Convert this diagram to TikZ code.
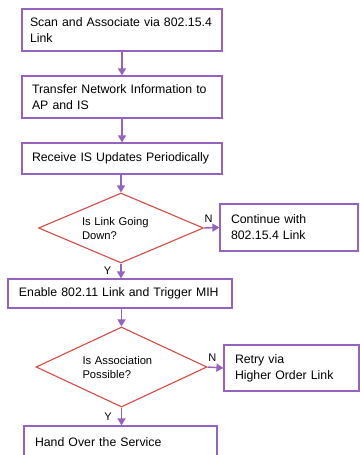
\documentclass[tikz,border=0pt]{standalone}
\usepackage{fontspec}
\setmainfont{Liberation Sans}
\usepackage{xcolor}
\usetikzlibrary{shapes.geometric,arrows.meta}
\definecolor{boxcolor}{RGB}{150, 98, 192}
\definecolor{decisioncolor}{RGB}{212, 76, 66}

\tikzset{
        stepbox/.style={draw=boxcolor, line width=1.2pt, rectangle, align=left,
                inner xsep=10pt, inner ysep=0pt,
                font=\fontsize{12.3}{16}\selectfont},
        decision/.style={draw=decisioncolor, line width=1.1pt, diamond, inner sep=0pt,
                align=left, text width=78pt, font=\fontsize{11.2}{14}\selectfont},
        flow/.style={draw=boxcolor, line width=1.4pt, -{Triangle[length=7pt,width=8pt]}},
        answer/.style={font=\fontsize{11}{13}\selectfont, inner sep=1pt},
}

\begin{document}
\begin{tikzpicture}[x=1pt, y=-1pt]
        \useasboundingbox[fill=white] (0, 0) rectangle (359, 455);
        % Main column {{{
        \node[stepbox, inner xsep=8pt, minimum width=200, minimum height=42, text width=184] (scan) at (122, 30)
                {Scan and Associate via 802.15.4\\Link};
        \node[stepbox, minimum width=200, minimum height=42, text width=180] (transfer) at (122, 97)
                {Transfer Network Information to\\AP and IS};
        \node[stepbox, minimum width=200, minimum height=31, text width=180] (receive) at (122, 158.5)
                {Receive IS Updates Periodically};
        \node[decision, shape aspect=2.36, minimum width=165, minimum height=70] (linkdown) at (121, 228)
                {Is Link Going\\Down?};
        \node[stepbox, minimum width=224, minimum height=29, text width=202] (enable) at (120, 293.5)
                {Enable 802.11 Link and Trigger MIH};
        \node[decision, shape aspect=2.14, minimum width=171, minimum height=80] (assoc) at (121.5, 367)
                {Is Association\\Possible?};
        \node[stepbox, minimum width=193, minimum height=32, text width=171] (handover) at (120.5, 442)
                {Hand Over the Service};
        % }}}
        % Side branches {{{
        \node[stepbox, minimum width=138, minimum height=47, text width=116] (continue) at (289, 227.5)
                {Continue with\\802.15.4 Link};
        \node[stepbox, minimum width=135, minimum height=46, text width=113] (retry) at (291.5, 368)
                {Retry via\\Higher Order Link};
        % }}}
        % Connectors {{{
        \draw[flow] (scan.south) -- (transfer.north);
        \draw[flow] (transfer.south) -- (receive.north);
        \draw[flow] (receive.south -| linkdown.north) -- (linkdown.north);
        \draw[flow] (linkdown.south) -- node[answer, left, xshift=-8pt]{Y} (linkdown.south |- enable.north);
        \draw[flow] (linkdown.east) -- node[answer, pos=0.3, above, yshift=4pt]{N} (continue.west);
        \draw[flow] (enable.south -| assoc.north) -- (assoc.north);
        \draw[flow] (assoc.south) -- node[answer, left, xshift=-8pt]{Y} (assoc.south |- handover.north);
        \draw[flow] (assoc.east) -- node[answer, pos=0.3, above, yshift=4pt]{N} (retry.west);
        % }}}
\end{tikzpicture}
\end{document}
